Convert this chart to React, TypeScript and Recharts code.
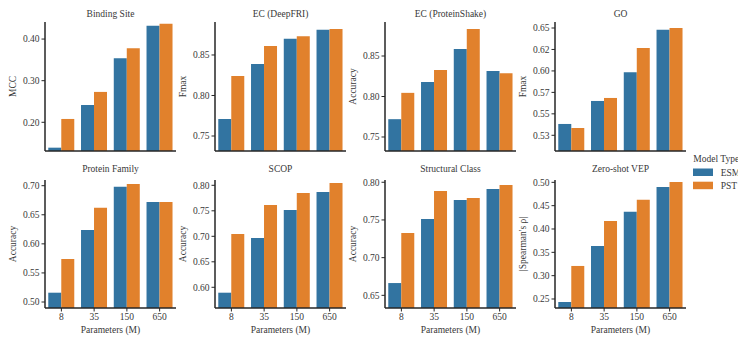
import React from 'react';
import { BarChart, Bar, XAxis, YAxis } from 'recharts';

const FONT = 'Liberation Serif, Tinos, Times New Roman, Times, DejaVu Serif, serif';
const TEXT = '#383838';
const AXIS = '#262626';
const BLUE = '#3274a1';
const ORANGE = '#e1812c';

// Categories
const params = ['8', '35', '150', '650'];
const seriesNames = ['ESM', 'PST'];
const legendTitle = 'Model Type';
const xAxisTitle = 'Parameters (M)';

// Panel titles / y labels
const titles = ['Binding Site', 'EC (DeepFRI)', 'EC (ProteinShake)', 'GO', 'Protein Family', 'SCOP', 'Structural Class', 'Zero-shot VEP'];
const yLabels = ['MCC', 'Fmax', 'Accuracy', 'Fmax', 'Accuracy', 'Accuracy', 'Accuracy', "|Spearman's ρ|"];

// Series values
const bindingSiteESM = [0.139, 0.2415, 0.354, 0.432];
const bindingSitePST = [0.208, 0.273, 0.378, 0.437];
const ecDeepFriESM = [0.771, 0.839, 0.870, 0.881];
const ecDeepFriPST = [0.824, 0.861, 0.873, 0.882];
const ecProteinShakeESM = [0.772, 0.818, 0.8586, 0.8315];
const ecProteinShakePST = [0.8045, 0.8328, 0.8835, 0.8287];
const goESM = [0.5382, 0.565, 0.5985, 0.648];
const goPST = [0.5335, 0.5685, 0.6266, 0.650];
const proteinFamilyESM = [0.516, 0.624, 0.698, 0.672];
const proteinFamilyPST = [0.574, 0.662, 0.703, 0.672];
const scopESM = [0.5894, 0.6967, 0.7514, 0.787];
const scopPST = [0.7046, 0.7612, 0.785, 0.8045];
const structuralClassESM = [0.6663, 0.7513, 0.7765, 0.7912];
const structuralClassPST = [0.7327, 0.7885, 0.779, 0.7965];
const zeroShotESM = [0.2436, 0.3636, 0.4367, 0.490];
const zeroShotPST = [0.3208, 0.417, 0.4625, 0.5007];

// Tick values and labels
const ticks1 = [0.2, 0.3, 0.4];
const tickLabels1 = ['0.20', '0.30', '0.40'];
const ticks2 = [0.75, 0.8, 0.85];
const tickLabels2 = ['0.75', '0.80', '0.85'];
const ticks3 = [0.75, 0.8, 0.85];
const tickLabels3 = ['0.75', '0.80', '0.85'];
const ticks4 = [0.525, 0.55, 0.575, 0.6, 0.625, 0.65];
const tickLabels4 = ['0.53', '0.55', '0.57', '0.60', '0.62', '0.65'];
const ticks5 = [0.5, 0.55, 0.6, 0.65, 0.7];
const tickLabels5 = ['0.50', '0.55', '0.60', '0.65', '0.70'];
const ticks6 = [0.6, 0.65, 0.7, 0.75, 0.8];
const tickLabels6 = ['0.60', '0.65', '0.70', '0.75', '0.80'];
const ticks7 = [0.65, 0.7, 0.75, 0.8];
const tickLabels7 = ['0.65', '0.70', '0.75', '0.80'];
const ticks8 = [0.25, 0.3, 0.35, 0.4, 0.45, 0.5];
const tickLabels8 = ['0.25', '0.30', '0.35', '0.40', '0.45', '0.50'];

// Axis domains
const domains: [number, number][] = [
  [0.131, 0.441],
  [0.7315, 0.8907],
  [0.7327, 0.892],
  [0.5067, 0.657],
  [0.4897, 0.7098],
  [0.5594, 0.8104],
  [0.6332, 0.803],
  [0.2307, 0.505],
];

const panels = [
  { esm: bindingSiteESM, pst: bindingSitePST, ticks: ticks1, labels: tickLabels1 },
  { esm: ecDeepFriESM, pst: ecDeepFriPST, ticks: ticks2, labels: tickLabels2 },
  { esm: ecProteinShakeESM, pst: ecProteinShakePST, ticks: ticks3, labels: tickLabels3 },
  { esm: goESM, pst: goPST, ticks: ticks4, labels: tickLabels4 },
  { esm: proteinFamilyESM, pst: proteinFamilyPST, ticks: ticks5, labels: tickLabels5 },
  { esm: scopESM, pst: scopPST, ticks: ticks6, labels: tickLabels6 },
  { esm: structuralClassESM, pst: structuralClassPST, ticks: ticks7, labels: tickLabels7 },
  { esm: zeroShotESM, pst: zeroShotPST, ticks: ticks8, labels: tickLabels8 },
];

const AXIS_X = [45, 215, 385, 555];
const PLOT_W = 131;
const Y_AXIS_W = 45;

function Panel({ idx }: { idx: number }) {
  const p = panels[idx];
  const row = idx < 4 ? 0 : 1;
  const col = idx % 4;
  const data = params.map((x, i) => ({ param: x, ESM: p.esm[i], PST: p.pst[i] }));
  const chartTop = row === 0 ? 0 : 160;
  const height = row === 0 ? 160 : 177;
  const marginTop = row === 0 ? 22 : 20;
  const xh = row === 0 ? 9 : 29;
  const plotH = height - marginTop - xh;
  const yLabelContent = () => {
    const cx = Y_AXIS_W - 32;
    const cy = marginTop + plotH / 2;
    return (
      <text
        x={cx}
        y={cy}
        transform={`rotate(-90, ${cx}, ${cy})`}
        textAnchor="middle"
        dominantBaseline="central"
        fill={TEXT}
        fontSize={9.5}
        fontFamily={FONT}
      >
        {yLabels[idx]}
      </text>
    );
  };
  const xLabelContent = () => (
    <text
      x={Y_AXIS_W + PLOT_W / 2}
      y={height - 3.7}
      textAnchor="middle"
      fill={TEXT}
      fontSize={9.5}
      fontFamily={FONT}
    >
      {xAxisTitle}
    </text>
  );
  return (
    <div style={{ position: 'absolute', left: AXIS_X[col] - Y_AXIS_W, top: chartTop, width: 180, height, fontFamily: FONT }}>
      <BarChart
        width={180}
        height={height}
        data={data}
        margin={{ top: marginTop, right: 4, bottom: 0, left: 0 }}
        barCategoryGap="10%"
        barGap={0}
        style={{ fontFamily: FONT }}
      >
        <XAxis
          dataKey="param"
          height={xh}
          interval={0}
          tick={row === 1 ? { fill: TEXT, fontSize: 9.5, fontFamily: FONT } : false}
          tickLine={{ stroke: AXIS, strokeWidth: 1 }}
          axisLine={{ stroke: AXIS, strokeWidth: 1.5 }}
          tickSize={3.5}
          tickMargin={1.5}
          label={row === 1 ? { content: xLabelContent } : undefined}
        />
        <YAxis
          type="number"
          width={Y_AXIS_W}
          domain={domains[idx]}
          ticks={p.ticks}
          allowDataOverflow
          interval={0}
          tickFormatter={(v: number) => {
            const k = p.ticks.indexOf(v);
            return k >= 0 ? p.labels[k] : String(v);
          }}
          tick={{ fill: TEXT, fontSize: 9.5, fontFamily: FONT }}
          tickLine={{ stroke: AXIS, strokeWidth: 1 }}
          axisLine={{ stroke: AXIS, strokeWidth: 1.5 }}
          tickSize={3.5}
          tickMargin={2}
          label={{ content: yLabelContent }}
        />
        <Bar dataKey="ESM" fill={BLUE} isAnimationActive={false} />
        <Bar dataKey="PST" fill={ORANGE} isAnimationActive={false} />
      </BarChart>
      <div
        style={{
          position: 'absolute',
          left: Y_AXIS_W,
          width: PLOT_W,
          top: row === 0 ? 7.5 : 3.1,
          textAlign: 'center',
          fontFamily: FONT,
          fontSize: 9.5,
          fontWeight: 'normal',
          lineHeight: '12px',
          color: TEXT,
          whiteSpace: 'nowrap',
        }}
      >
        {titles[idx]}
      </div>
    </div>
  );
}

function Legend() {
  const colors = [BLUE, ORANGE];
  return (
    <svg
      width={50}
      height={45}
      style={{ position: 'absolute', left: 688, top: 150, overflow: 'hidden', fontFamily: FONT }}
    >
      <text x={5.3} y={12} fill={TEXT} fontSize={9.5} fontFamily={FONT}>
        {legendTitle}
      </text>
      {seriesNames.map((n, i) => (
        <g key={n}>
          <rect x={5} y={18.5 + i * 13.2} width={20} height={7.5} fill={colors[i]} />
          <text x={32.7} y={26 + i * 13.2} fill={TEXT} fontSize={9.5} fontFamily={FONT}>
            {n}
          </text>
        </g>
      ))}
    </svg>
  );
}

export default function App() {
  return (
    <div
      style={{
        position: 'absolute',
        left: 0,
        top: 0,
        width: 738,
        height: 337,
        overflow: 'hidden',
        background: '#fff',
        fontFamily: FONT,
      }}
    >
      {titles.map((_, i) => (
        <Panel key={i} idx={i} />
      ))}
      <Legend />
    </div>
  );
}
